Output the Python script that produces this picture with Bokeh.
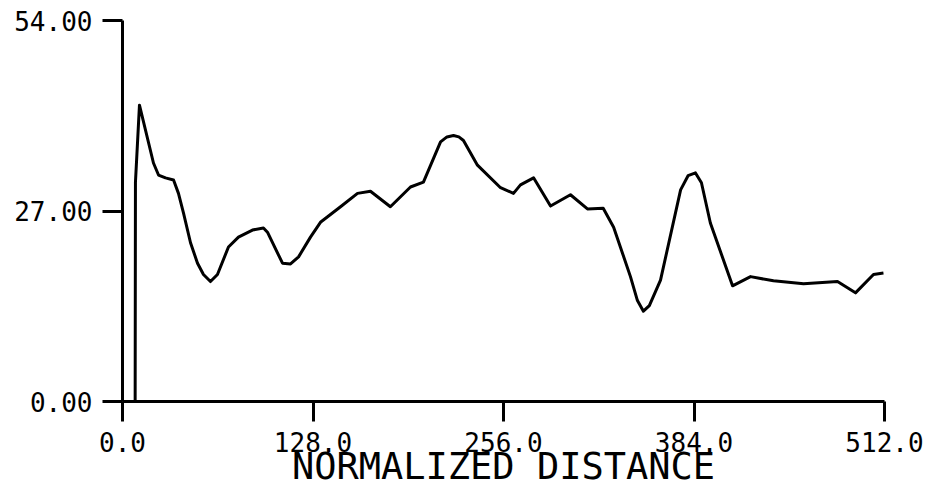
from bokeh.plotting import figure
from bokeh.models import Range1d, FixedTicker
from bokeh.embed import file_html
from bokeh.resources import INLINE

# Data
distance = [8.5, 8.7, 11.4, 20.8, 24.2, 28.9, 34.3, 37.6, 41, 45.7, 50.4, 54.4, 59.1, 63.8,
            71.2, 77.9, 87.3, 94.7, 97.4, 107.5, 112.9, 118.3, 126.3, 133, 146.5, 157.9,
            166.6, 180, 193.5, 202.2, 213.7, 218, 222.4, 226, 229.1, 238.5, 254, 262.7, 267.4,
            276.2, 287.6, 301, 312.4, 323, 330, 341.3, 346, 350, 354, 361.5, 375, 380, 385,
            389, 395, 409.9, 422, 437.4, 457.6, 480.4, 492.5, 504.6, 511.3]
values = [0, 31.1, 42.0, 33.8, 32.1, 31.7, 31.4, 29.5, 26.7, 22.5, 19.6, 18.0, 17.0, 18.0,
          21.9, 23.3, 24.3, 24.6, 24.0, 19.6, 19.5, 20.5, 23.3, 25.4, 27.6, 29.5,
          29.8, 27.6, 30.4, 31.1, 36.8, 37.5, 37.7, 37.5, 37.0, 33.5, 30.3, 29.5, 30.7,
          31.7, 27.7, 29.3, 27.3, 27.4, 24.7, 17.7, 14.3, 12.8, 13.6, 17.2, 30.0, 32.0, 32.4,
          31.0, 25.3, 16.4, 17.7, 17.1, 16.7, 17.0, 15.4, 18.0, 18.2]

x_ticks = [0, 128, 256, 384, 512]
x_tick_labels = ["0.0", "128.0", "256.0", "384.0", "512.0"]
y_ticks = [0, 27, 54]
y_tick_labels = ["0.00", "27.00", "54.00"]
x_title = "NORMALIZED DISTANCE"

FONT = "DejaVu Sans Mono"

p = figure(width=931, height=490, output_backend="svg", toolbar_location=None,
           x_range=Range1d(0, 512), y_range=Range1d(0, 54),
           min_border_left=122, min_border_right=47, min_border_top=20, min_border_bottom=88)
p.outline_line_color = None
p.xgrid.visible = False
p.ygrid.visible = False
p.background_fill_color = "white"
p.border_fill_color = "white"

p.line(distance, values, line_color="black", line_width=3, line_join="round")

for ax in (p.xaxis[0], p.yaxis[0]):
    ax.axis_line_width = 3
    ax.axis_line_color = "black"
    ax.major_tick_line_width = 3
    ax.major_tick_line_color = "black"
    ax.major_tick_in = 0
    ax.major_tick_out = 20
    ax.minor_tick_line_color = None
    ax.major_label_text_font = FONT
    ax.major_label_text_font_size = "26px"
    ax.major_label_text_color = "black"

p.xaxis[0].ticker = FixedTicker(ticks=x_ticks)
p.xaxis[0].major_label_overrides = {t: l for t, l in zip(x_ticks, x_tick_labels)}
p.xaxis[0].major_label_standoff = 10
p.xaxis[0].axis_label = x_title
p.xaxis[0].axis_label_text_font = FONT
p.xaxis[0].axis_label_text_font_size = "37px"
p.xaxis[0].axis_label_text_font_style = "normal"
p.xaxis[0].axis_label_text_color = "black"
p.xaxis[0].axis_label_standoff = -10

p.yaxis[0].ticker = FixedTicker(ticks=y_ticks)
p.yaxis[0].major_label_overrides = {t: l for t, l in zip(y_ticks, y_tick_labels)}
p.yaxis[0].major_label_standoff = 10

open("out.html", "w").write(file_html(p, INLINE))
